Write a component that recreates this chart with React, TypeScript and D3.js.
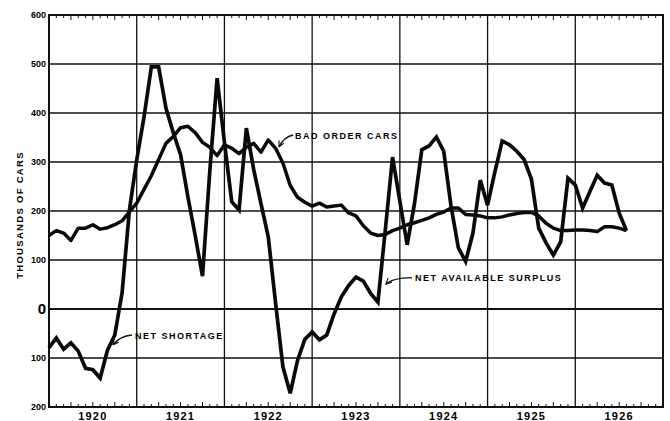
import React, { useEffect, useRef } from 'react';
import * as d3 from 'd3';

// monthly values, thousands of cars, Jan 1920 .. Aug 1926
const badOrderCars = [
  150, 160, 155, 140, 165, 165, 172, 163, 166, 172,
  180, 198, 216, 244, 272, 305, 338, 352, 370, 373,
  360, 340, 330, 313, 335, 328, 317, 330, 338, 320,
  345, 328, 298, 252, 228, 218, 210, 216, 208, 210,
  212, 196, 190, 170, 155, 150, 152, 160, 165, 172,
  176, 181, 186, 193, 198, 206, 206, 193, 192, 190,
  186, 186, 188, 192, 195, 197, 197, 190, 175, 165,
  160, 160, 161, 161, 160, 158, 168, 168, 165, 160
];

// negative = net shortage
const netAvailableSurplus = [
  -79, -59, -82, -69, -86, -121, -124, -141, -84, -53,
  33, 202, 304, 392, 494, 494, 410, 360, 315, 229,
  150, 67, 282, 471, 340, 219, 202, 369, 285, 215,
  147, 12, -118, -172, -105, -62, -47, -63, -53, -10,
  25, 48, 65, 57, 32, 14, 160, 310, 220, 131,
  215, 325, 333, 351, 322, 210, 125, 97, 155, 263,
  212, 280, 343, 335, 322, 305, 265, 165, 135, 110,
  137, 267, 253, 206, 240, 273, 257, 253, 196, 160
];

const yearLabels = ['1920', '1921', '1922', '1923', '1924', '1925', '1926'];
const yTicks = [600, 500, 400, 300, 200, 100, 0, -100, -200];

// label position + arrow (start, control, tip) in month / value units
const notes = [
  { text: 'BAD ORDER CARS', at: [33.65, 347], arrow: [[33.4, 355], [32.15, 351], [31.46, 331]] },
  { text: 'NET SHORTAGE', at: [11.76, -61], arrow: [[11.35, -53], [9.71, -55], [8.75, -73]] },
  { text: 'NET AVAILABLE SURPLUS', at: [50.07, 57], arrow: [[49.66, 64], [46.92, 63], [46.1, 51]] }
];

function App() {
  const chart = useRef(null);

  useEffect(function () {
    const svg = d3.select(chart.current);
    svg.selectAll('*').remove();

    const font = '"Liberation Sans", Arial, sans-serif';
    const x = d3.scaleLinear().domain([0, 84]).range([49, 663]);
    const y = d3.scaleLinear().domain([-200, 600]).range([407, 15]);

    svg.append('defs').append('marker')
      .attr('id', 'arrowhead')
      .attr('viewBox', '0 0 10 10')
      .attr('refX', 9).attr('refY', 5)
      .attr('markerWidth', 7).attr('markerHeight', 7)
      .attr('markerUnits', 'userSpaceOnUse')
      .attr('orient', 'auto')
      .append('path')
        .attr('d', 'M1,1 L9,5 L1,9')
        .attr('fill', 'none')
        .attr('stroke', '#111')
        .attr('stroke-width', 1.6);

    // horizontal grid
    svg.append('g')
      .selectAll('line')
      .data(yTicks.slice(1, -1))
      .join('line')
        .attr('x1', x(0)).attr('x2', x(84))
        .attr('y1', d => y(d)).attr('y2', d => y(d))
        .attr('stroke', '#111')
        .attr('stroke-width', d => d === 0 ? 2.2 : 1.3);

    // year lines
    svg.append('g')
      .selectAll('line')
      .data(d3.range(12, 84, 12))
      .join('line')
        .attr('x1', d => x(d)).attr('x2', d => x(d))
        .attr('y1', y(600)).attr('y2', y(-200))
        .attr('stroke', '#111')
        .attr('stroke-width', 1.3);

    // month ticks top and bottom, pointing in
    const months = d3.range(1, 84).filter(m => m % 12 !== 0);
    const tickLen = m => (m % 3 === 0 ? 5 : 3);
    svg.append('g')
      .selectAll('line')
      .data(months)
      .join('line')
        .attr('x1', d => x(d)).attr('x2', d => x(d))
        .attr('y1', y(600)).attr('y2', d => y(600) + tickLen(d))
        .attr('stroke', '#111').attr('stroke-width', 1);
    svg.append('g')
      .selectAll('line')
      .data(months)
      .join('line')
        .attr('x1', d => x(d)).attr('x2', d => x(d))
        .attr('y1', y(-200)).attr('y2', d => y(-200) - tickLen(d))
        .attr('stroke', '#111').attr('stroke-width', 1);

    // frame
    svg.append('rect')
      .attr('x', x(0)).attr('y', y(600))
      .attr('width', x(84) - x(0)).attr('height', y(-200) - y(600))
      .attr('fill', 'none')
      .attr('stroke', '#111')
      .attr('stroke-width', 2);

    // y labels
    svg.append('g')
      .selectAll('text')
      .data(yTicks)
      .join('text')
        .attr('x', 46)
        .attr('y', d => y(d))
        .attr('dy', d => d === 0 ? '0.36em' : '0.35em')
        .attr('text-anchor', 'end')
        .style('font-family', font)
        .style('font-weight', 'bold')
        .style('font-size', d => d === 0 ? '15px' : '9px')
        .text(d => Math.abs(d));

    svg.append('text')
      .attr('transform', 'translate(23,215) rotate(-90)')
      .attr('text-anchor', 'middle')
      .style('font-family', font)
      .style('font-weight', 'bold')
      .style('font-size', '9.5px')
      .style('letter-spacing', '1.3px')
      .text('THOUSANDS OF CARS');

    // year labels
    svg.append('g')
      .selectAll('text')
      .data(yearLabels)
      .join('text')
        .attr('x', (d, i) => x(i * 12 + 6))
        .attr('y', 420)
        .attr('text-anchor', 'middle')
        .style('font-family', font)
        .style('font-weight', 'bold')
        .style('font-size', '11px')
        .style('letter-spacing', '1.2px')
        .text(d => d);

    const line = d3.line().x((d, i) => x(i)).y(d => y(d));

    svg.append('path')
      .datum(badOrderCars)
      .attr('d', line)
      .attr('fill', 'none')
      .attr('stroke', '#0a0a0a')
      .attr('stroke-width', 3.5)
      .attr('stroke-linejoin', 'round');

    svg.append('path')
      .datum(netAvailableSurplus)
      .attr('d', line)
      .attr('fill', 'none')
      .attr('stroke', '#0a0a0a')
      .attr('stroke-width', 3.7)
      .attr('stroke-linejoin', 'miter')
      .attr('stroke-miterlimit', 3);

    // annotations
    const g = svg.append('g');
    notes.forEach(n => {
      const [s, c, t] = n.arrow;
      const p = d3.path();
      p.moveTo(x(s[0]), y(s[1]));
      p.quadraticCurveTo(x(c[0]), y(c[1]), x(t[0]), y(t[1]));
      g.append('path')
        .attr('d', p.toString())
        .attr('fill', 'none')
        .attr('stroke', '#111')
        .attr('stroke-width', 1.4)
        .attr('marker-end', 'url(#arrowhead)');
      g.append('text')
        .attr('x', x(n.at[0]))
        .attr('y', y(n.at[1]))
        .style('font-family', font)
        .style('font-weight', 'bold')
        .style('font-size', '9px')
        .style('letter-spacing', '1.5px')
        .text(n.text);
    });
  });

  return (
    <svg ref={chart} width={670} height={421}
      style={{ position: 'absolute', left: 0, top: 0, background: '#fff' }} />
  );
}

export default App;
